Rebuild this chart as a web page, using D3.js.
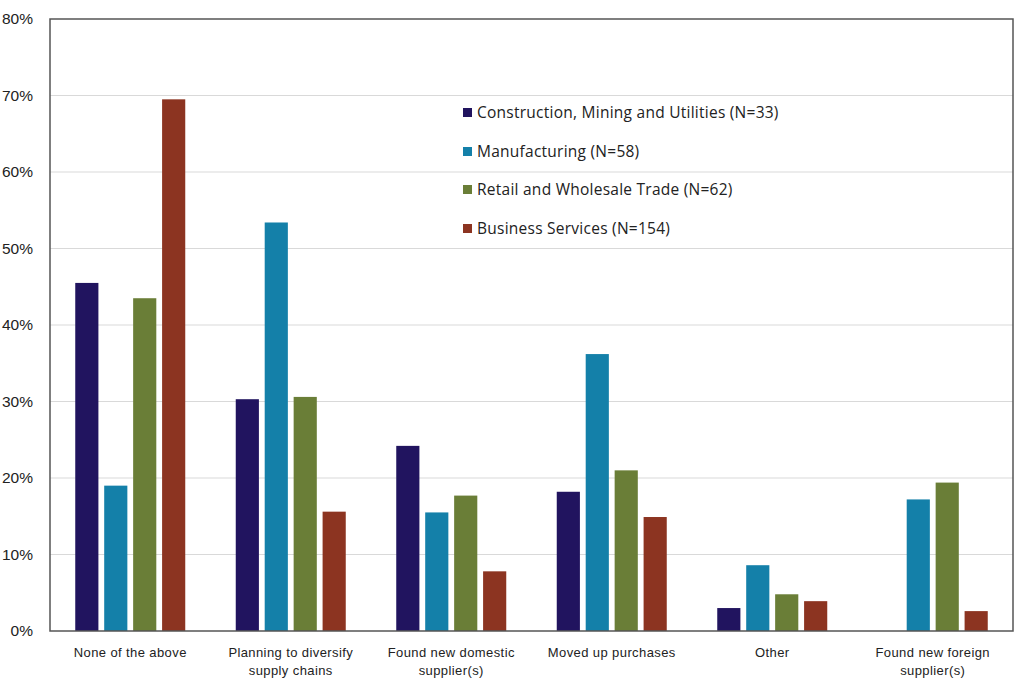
<!DOCTYPE html>
<html><head><meta charset="utf-8">
<script src="https://cdn.jsdelivr.net/npm/d3@7"></script>
<style>body{margin:0;background:#fff}svg{display:block}</style>
</head><body>
<svg id="c" width="1024" height="685"></svg>
<script>
const categories = [["None of the above"],["Planning to diversify","supply chains"],["Found new domestic","supplier(s)"],["Moved up purchases"],["Other"],["Found new foreign","supplier(s)"]];
const seriesNames = ["Construction, Mining and Utilities (N=33)","Manufacturing (N=58)","Retail and Wholesale Trade (N=62)","Business Services (N=154)"];
const seriesColors = ["#21145f","#1480a9","#6a7e37","#8c3421"];
const construction = [45.5, 30.3, 24.2, 18.2, 3.0, 0];
const manufacturing = [19.0, 53.4, 15.5, 36.2, 8.6, 17.2];
const retail = [43.5, 30.6, 17.7, 21.0, 4.8, 19.4];
const business = [69.5, 15.6, 7.8, 14.9, 3.9, 2.6];
const yTicks = [0,10,20,30,40,50,60,70,80];
const series = [construction, manufacturing, retail, business];

const svg = d3.select("#c");
const L=50, R=1013, T=19, B=631;
const x0 = d3.scaleBand().domain(d3.range(categories.length)).range([L,R]);
const x1 = d3.scaleBand().domain(d3.range(series.length)).range([0,110]).paddingInner(0.2);
const y = d3.scaleLinear().domain([0,80]).range([B,T]);
const font = "'Liberation Sans', Arial, sans-serif";

svg.append("g").selectAll("line").data(yTicks.filter(t=>t>0&&t<80)).join("line")
  .attr("x1",L).attr("x2",R).attr("y1",d=>y(d)).attr("y2",d=>y(d))
  .attr("stroke","#d9d9d9").attr("stroke-width",1.2);

const yAxis = svg.append("g").attr("transform",`translate(${L},0)`)
  .call(d3.axisLeft(y).tickValues(yTicks).tickFormat(d=>d+"%").tickSize(0).tickPadding(17));
yAxis.select(".domain").remove();
yAxis.selectAll("text").attr("font-family",font).attr("font-size",15.5).attr("fill","#222");

const groups = svg.append("g").selectAll("g").data(categories).join("g")
  .attr("transform",(d,i)=>`translate(${x0(i)+x0.bandwidth()/2-55},0)`);
groups.selectAll("rect").data((d,i)=>series.map((s,j)=>({j,v:s[i]}))).join("rect")
  .attr("x",d=>x1(d.j)).attr("width",x1.bandwidth())
  .attr("y",d=>y(d.v)).attr("height",d=>B-y(d.v))
  .attr("fill",d=>seriesColors[d.j]);

svg.append("rect").attr("x",L).attr("y",T).attr("width",R-L).attr("height",B-T)
  .attr("fill","none").attr("stroke","#555").attr("stroke-width",1.5);

const xAxis = svg.append("g").attr("transform",`translate(0,${B})`)
  .call(d3.axisBottom(x0).tickFormat("").tickSize(0));
xAxis.select(".domain").remove();
xAxis.selectAll(".tick").each(function(d){
  const t = d3.select(this).append("text").attr("fill","#222").attr("font-family",font)
    .attr("font-size",13).attr("letter-spacing",0.4).attr("text-anchor","middle");
  categories[d].forEach((line,k)=>t.append("tspan").attr("x",0).attr("y",26+k*18).text(line));
});

const leg = svg.append("g").attr("transform","translate(463,0)");
const legY = [113,152,190,229];
seriesNames.forEach((n,i)=>{
  leg.append("rect").attr("x",0).attr("y",legY[i]-5).attr("width",9).attr("height",9).attr("fill",seriesColors[i]);
  leg.append("text").attr("x",14).attr("y",legY[i]).attr("dy","0.35em")
    .attr("font-family","'Open Sans', sans-serif").attr("font-size",15.5).attr("letter-spacing",0.25)
    .attr("fill","#222").text(n);
});
</script>
</body></html>
